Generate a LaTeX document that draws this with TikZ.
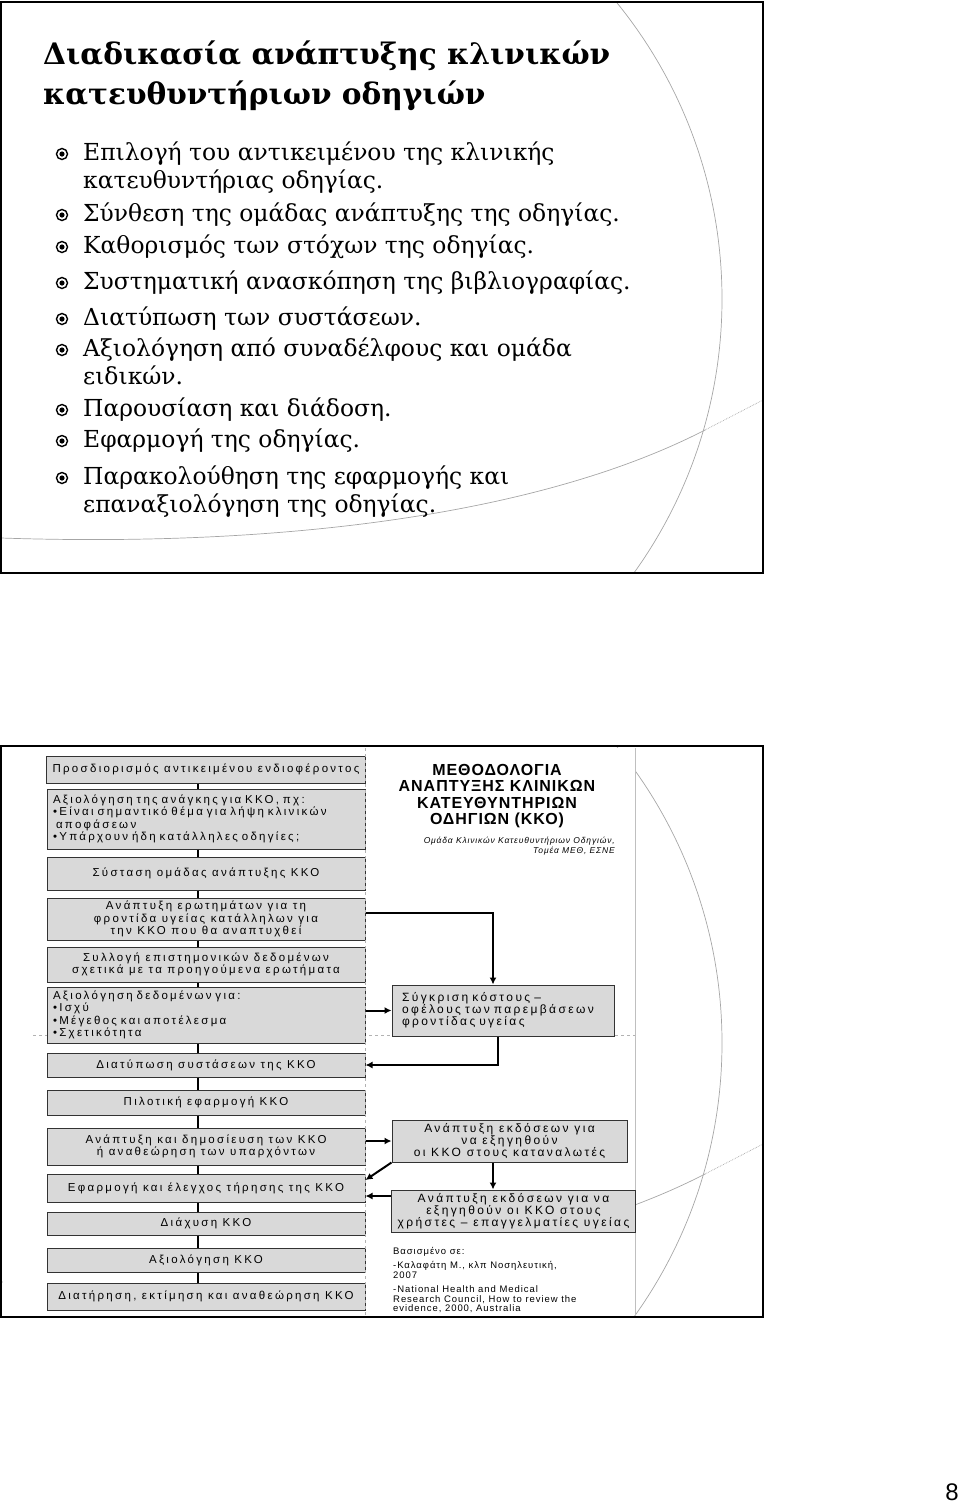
\documentclass[tikz,border=0pt]{standalone}
\usepackage{fontspec}
\setmainfont{DejaVu Serif}
\newfontfamily\chartfont[LetterSpace=20]{Liberation Sans}
\newfontfamily\headfont[LetterSpace=6]{Liberation Sans}
\newfontfamily\notefont[LetterSpace=10]{Liberation Sans}
\newfontfamily\pagefont{Liberation Sans}
\usetikzlibrary{arrows.meta, positioning}

\begin{document}
\begin{tikzpicture}[x=1pt, y=-1pt,
  box/.style={draw=black!80, fill=black!15, line width=1pt, inner xsep=6pt, inner ysep=1pt,
    align=center, font=\chartfont\fontsize{11.5}{12.5}\selectfont},
  leftbox/.style={box, minimum width=318pt},
  rightbox/.style={box, font=\chartfont\fontsize{12}{12}\selectfont},
  link/.style={line width=2.4pt},
  arrow/.style={line width=2pt, -{Latex[length=7pt,width=7pt]}},
  arcline/.style={gray!70, line width=0.7pt},
  item/.style={anchor=base west, align=left, inner sep=0pt, font=\fontsize{23.4}{28}\selectfont}]

\useasboundingbox (0,0) rectangle (960,1505);

% the two slide frames with their background arcs
\foreach \dy in {0,744} {
  \begin{scope}[shift={(0,\dy)}]
    \begin{scope}
      \clip (1,2) rectangle (763,573);
      \draw[arcline] (252,299) circle[radius=470];
      \draw[arcline] (1,538) .. controls (300,548) and (550,510) .. (705,430);
      \draw[arcline, densely dotted] (705,430) -- (763,400);
    \end{scope}
    \draw[line width=2.6pt] (1,2) rectangle (763,573);
  \end{scope}
}

% slide 1 (multi-line nodes sit on their last baseline)
\node[anchor=base west, align=left, inner sep=0pt, font=\bfseries\fontsize{29.6}{40}\selectfont] (title) at (43,104)
  {Διαδικασία ανάπτυξης κλινικών\\κατευθυντήριων οδηγιών};

\node[item] (i1) at (83,188) {Επιλογή του αντικειμένου της κλινικής\\κατευθυντήριας οδηγίας.};
\node[item] (i2) at (83,221) {Σύνθεση της ομάδας ανάπτυξης της οδηγίας.};
\node[item] (i3) at (83,253) {Καθορισμός των στόχων της οδηγίας.};
\node[item] (i4) at (83,289) {Συστηματική ανασκόπηση της βιβλιογραφίας.};
\node[item] (i5) at (83,325) {Διατύπωση των συστάσεων.};
\node[item] (i6) at (83,384) {Αξιολόγηση από συναδέλφους και ομάδα\\ειδικών.};
\node[item] (i7) at (83,416) {Παρουσίαση και διάδοση.};
\node[item] (i8) at (83,447) {Εφαρμογή της οδηγίας.};
\node[item] (i9) at (83,512) {Παρακολούθηση της εφαρμογής και\\επαναξιολόγηση της οδηγίας.};

\foreach \n/\k in {1/1,2/0,3/0,4/0,5/0,6/1,7/0,8/0,9/1} {
  \draw[line width=1.4pt] ([shift={(-21,{-6-28*\k})}]i\n.base west) circle (5.5);
  \fill ([shift={(-21,{-6-28*\k})}]i\n.base west) circle (2.6);
}

% slide 2: the flowchart
\fill[white] (3,748) rectangle (635,1315);
\draw[gray!50] (635,748) -- (635,1315);
\draw[gray!60, dashed, line width=0.6pt] (33,1035) -- (635,1035);

\coordinate (spine) at (198,0);
\coordinate (rspine) at (493,0);

\node[leftbox, minimum height=27pt] (b1) at (206,769.5) {Προσδιορισμός αντικειμένου ενδιοφέροντος};
\node[leftbox, minimum height=60pt, text width=306pt, align=left] (b2) at (206,819)
  {Αξιολόγηση της ανάγκης για ΚΚΟ, πχ:\\•Είναι σημαντικό θέμα για λήψη κλινικών\\\hspace*{3pt}αποφάσεων\\•Υπάρχουν ήδη κατάλληλες οδηγίες;};
\node[leftbox, minimum height=33pt] (b3) at (206,873.5) {Σύσταση ομάδας ανάπτυξης ΚΚΟ};
\node[leftbox, minimum height=42pt] (b4) at (206,919)
  {Ανάπτυξη ερωτημάτων για τη\\φροντίδα υγείας κατάλληλων για\\την ΚΚΟ που θα αναπτυχθεί};
\node[leftbox, minimum height=35pt] (b5) at (206,964.5)
  {Συλλογή επιστημονικών δεδομένων\\σχετικά με τα προηγούμενα ερωτήματα};
\node[leftbox, minimum height=56pt, text width=306pt, align=left] (b6) at (206,1015)
  {Αξιολόγηση δεδομένων για:\\•Ισχύ\\•Μέγεθος και αποτέλεσμα\\•Σχετικότητα};
\node[leftbox, minimum height=24pt] (b7) at (206,1065) {Διατύπωση συστάσεων της ΚΚΟ};
\node[leftbox, minimum height=25pt] (b8) at (206,1102.5) {Πιλοτική εφαρμογή ΚΚΟ};
\node[leftbox, minimum height=37pt] (b9) at (206,1146.5)
  {Ανάπτυξη και δημοσίευση των ΚΚΟ\\ή αναθεώρηση των υπαρχόντων};
\node[leftbox, minimum height=28pt] (b10) at (206,1188) {Εφαρμογή και έλεγχος τήρησης της ΚΚΟ};
\node[leftbox, minimum height=23pt] (b11) at (206,1223.5) {Διάχυση ΚΚΟ};
\node[leftbox, minimum height=24pt] (b12) at (206,1260) {Αξιολόγηση ΚΚΟ};
\node[leftbox, minimum height=27pt] (b13) at (206,1296.5) {Διατήρηση, εκτίμηση και αναθεώρηση ΚΚΟ};

\draw[gray!60, dashed, line width=0.6pt] (365,748) -- (365,1315);

\foreach \a/\b in {b1/b2,b2/b3,b3/b4,b4/b5,b5/b6,b6/b7,b7/b8,b8/b9,b9/b10,b10/b11,b11/b12,b12/b13}
  \draw[link] (\a.south -| spine) -- (\b.north -| spine);

\node[align=center, inner sep=0pt, font=\headfont\bfseries\fontsize{16}{16.5}\selectfont] (head) at (497,796)
  {ΜΕΘΟΔΟΛΟΓΙΑ\\ΑΝΑΠΤΥΞΗΣ ΚΛΙΝΙΚΩΝ\\ΚΑΤΕΥΘΥΝΤΗΡΙΩΝ\\ΟΔΗΓΙΩΝ (ΚΚΟ)};
\node[anchor=north east, align=right, inner sep=0pt, font=\notefont\itshape\fontsize{8.5}{10}\selectfont] (team) at (615,837)
  {Ομάδα Κλινικών Κατευθυντήριων Οδηγιών,\\Τομέα ΜΕΘ, ΕΣΝΕ};

\node[rightbox, minimum width=222pt, text width=202pt, inner xsep=10pt, minimum height=51pt, align=left] (cost) at (503,1010.5)
  {Σύγκριση κόστους –\\οφέλους των παρεμβάσεων\\φροντίδας υγείας};
\node[rightbox, minimum width=235pt, minimum height=42pt] (cons) at (509.5,1141)
  {Ανάπτυξη εκδόσεων για\\να εξηγηθούν\\οι ΚΚΟ στους καταναλωτές};
\node[rightbox, minimum width=243pt, minimum height=42pt] (prof) at (513.5,1211)
  {Ανάπτυξη εκδόσεων για να\\εξηγηθούν οι ΚΚΟ στους\\χρήστες – επαγγελματίες υγείας};

\node[anchor=north west, align=left, inner sep=0pt, font=\notefont\fontsize{9.5}{9.5}\selectfont] (basis) at (393,1247)
  {Βασισμένο σε:\\[5pt]-Καλαφάτη Μ., κλπ Νοσηλευτική,\\2007\\[5pt]-National Health and Medical\\Research Council, How to review the\\evidence, 2000, Australia};

\draw[arrow] ([yshift=6pt]b4.east) -| (cost.north -| rspine);
\draw[arrow] (b6.east |- cost.west) -- (cost.west);
\draw[arrow] ([xshift=-5pt]cost.south) |- (b7.east);
\draw[arrow] (b9.east |- cons.west) -- (cons.west);
\draw[arrow] (cons.south west) -- ([yshift=8pt]b10.east);
\draw[arrow] (cons.south -| rspine) -- (prof.north -| rspine);
\draw[arrow] ([yshift=15pt]prof.west) -- ([yshift=-8pt]b10.east);

\node[anchor=base east, inner sep=0pt, font=\pagefont\fontsize{24}{24}\selectfont] (page) at (959,1500) {8};
\end{tikzpicture}
\end{document}
